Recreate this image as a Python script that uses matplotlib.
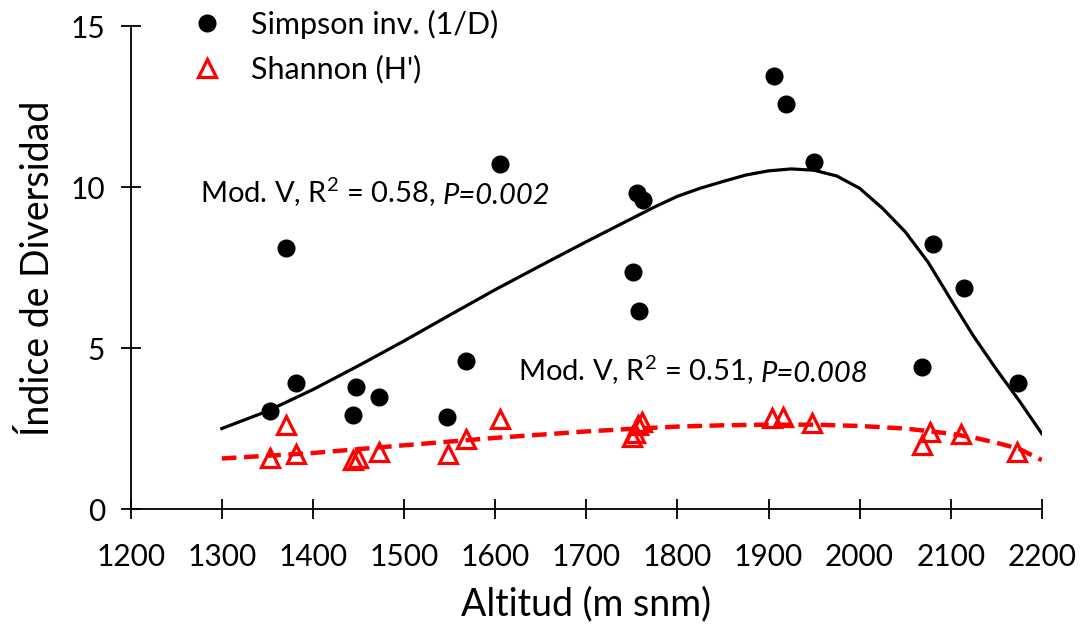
import matplotlib
matplotlib.use("Agg")
import matplotlib.pyplot as plt
from matplotlib.lines import Line2D

plt.rcParams['font.family'] = ['Lato', 'DejaVu Sans']
plt.rcParams['mathtext.fontset'] = 'custom'
plt.rcParams['mathtext.rm'] = 'Lato'
plt.rcParams['mathtext.it'] = 'Lato:italic'

# Simpson inverse (1/D)
simp_alt = [1353, 1370, 1381, 1444, 1447, 1472, 1547, 1568, 1605, 1751, 1756, 1758, 1762,
            1906, 1919, 1950, 2068, 2081, 2115, 2174]
simp_val = [3.05, 8.11, 3.91, 2.92, 3.81, 3.50, 2.88, 4.61, 10.72, 7.38, 9.83, 6.15, 9.62,
            13.47, 12.60, 10.80, 4.43, 8.25, 6.86, 3.93]

# Shannon (H')
shan_alt = [1353, 1370, 1381, 1444, 1449, 1472, 1548, 1568, 1605, 1750, 1754, 1757, 1761,
            1904, 1916, 1948, 2068, 2077, 2111, 2173]
shan_val = [1.61, 2.62, 1.72, 1.53, 1.58, 1.79, 1.72, 2.17, 2.80, 2.25, 2.36, 2.62, 2.72,
            2.83, 2.86, 2.69, 2.00, 2.41, 2.34, 1.79]

# Fitted model curves
fit_s_x = [1300, 1350, 1400, 1450, 1500, 1550, 1600, 1650, 1700, 1750, 1775, 1800, 1825,
           1850, 1875, 1900, 1925, 1950, 1975, 2000, 2025, 2050, 2075, 2100, 2125, 2150,
           2175, 2200]
fit_s_y = [2.51, 3.05, 3.72, 4.46, 5.23, 6.03, 6.82, 7.57, 8.31, 9.03, 9.39, 9.72, 9.97,
           10.18, 10.38, 10.51, 10.57, 10.53, 10.35, 9.97, 9.35, 8.62, 7.68, 6.52, 5.38, 4.35,
           3.38, 2.35]
fit_h_x = [1300, 1400, 1500, 1600, 1700, 1750, 1800, 1850, 1900, 1950, 2000, 2050, 2100,
           2125, 2150, 2175, 2200]
fit_h_y = [1.58, 1.75, 1.99, 2.22, 2.42, 2.50, 2.57, 2.61, 2.63, 2.63, 2.59, 2.51, 2.35,
           2.23, 2.07, 1.88, 1.53]

x_ticks = [1200, 1300, 1400, 1500, 1600, 1700, 1800, 1900, 2000, 2100, 2200]
y_ticks = [0, 5, 10, 15]

fig = plt.figure(figsize=(10.83, 6.25), dpi=100)
ax = fig.add_axes([0.1207, 0.185, 0.8413, 0.773])

ax.plot(fit_s_x, fit_s_y, color='black', lw=2.3, zorder=2, solid_joinstyle='round')
ax.plot(fit_h_x, fit_h_y, color='red', lw=3.2, dashes=(3.3, 1.7), zorder=2)
ax.plot(simp_alt, simp_val, 'o', color='black', ms=12, zorder=3)
ax.plot(shan_alt, shan_val, '^', mfc='none', mec='red', ms=13, mew=2.3, zorder=4)

ax.set_xlim(1200, 2200)
ax.set_ylim(0, 15)
ax.set_xticks(x_ticks)
ax.set_yticks(y_ticks)
for s in ['top', 'right']:
    ax.spines[s].set_visible(False)
for s in ['left', 'bottom']:
    ax.spines[s].set_linewidth(1.3)
ax.tick_params(direction='inout', length=15, width=1.3, labelsize=21.5)
ax.tick_params(axis='x', pad=17)
ax.tick_params(axis='y', pad=11)

ax.set_xlabel('Altitud (m snm)', fontsize=27, labelpad=11)
ax.set_ylabel('Índice de Diversidad', fontsize=27, labelpad=10)

handles = [Line2D([], [], ls='none', marker='o', color='black', ms=12),
           Line2D([], [], ls='none', marker='^', mfc='none', mec='red', ms=13, mew=2.3)]
ax.legend(handles, ['Simpson inv. (1/D)', "Shannon (H')"], loc='upper left',
          bbox_to_anchor=(0.0366, 1.091), frameon=False, fontsize=22,
          handlelength=1.0, handletextpad=0.95, labelspacing=0.53)

t1 = ax.text(1276, 9.85, 'Mod. V, R$^{2}$ = 0.58,', fontsize=21, va='center', ha='left')
ax.annotate('P=0.002', xy=(1, 0), xycoords=t1, xytext=(5, 0), textcoords='offset points',
            va='bottom', ha='left', fontsize=21, style='italic')
t2 = ax.text(1625, 4.3, 'Mod. V, R$^{2}$ = 0.51,', fontsize=21, va='center', ha='left')
ax.annotate('P=0.008', xy=(1, 0), xycoords=t2, xytext=(5, 0), textcoords='offset points',
            va='bottom', ha='left', fontsize=21, style='italic')

fig.savefig('out.png', dpi=100)
